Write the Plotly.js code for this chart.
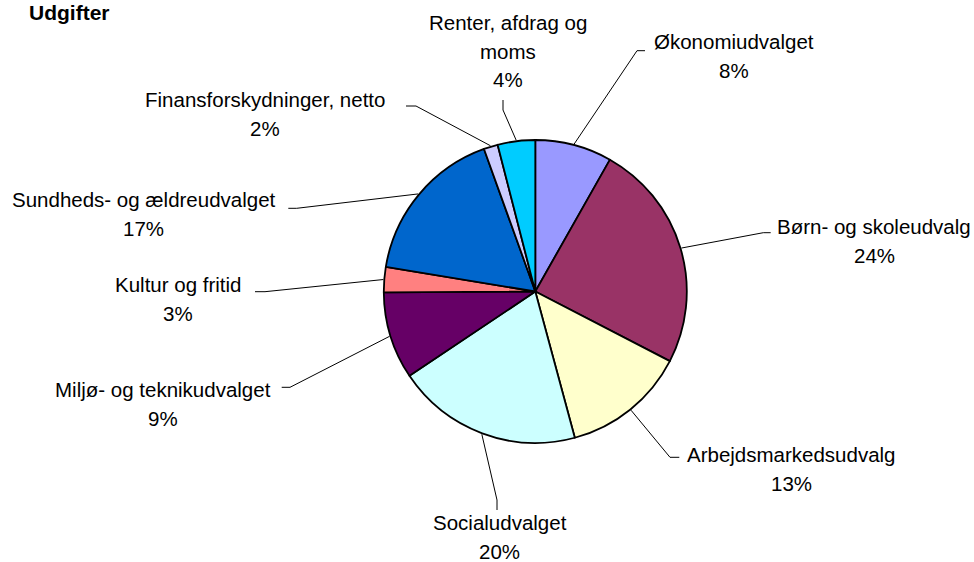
<!DOCTYPE html>
<html>
<head>
<meta charset="utf-8">
<script src="https://cdn.plot.ly/plotly-3.0.1.min.js"></script>
<style>html,body{margin:0;padding:0;background:#fff;}#chart{width:974px;height:562px;}</style>
</head>
<body>
<div id="chart"></div>
<script>
// ---- data ----
var categories = ["Økonomiudvalget", "Børn- og skoleudvalg", "Arbejdsmarkedsudvalg", "Socialudvalget",
  "Miljø- og teknikudvalget", "Kultur og fritid", "Sundheds- og ældreudvalget",
  "Finansforskydninger, netto", "Renter, afdrag og moms"];
var labelLines = [["Økonomiudvalget"], ["Børn- og skoleudvalg"], ["Arbejdsmarkedsudvalg"], ["Socialudvalget"],
  ["Miljø- og teknikudvalget"], ["Kultur og fritid"], ["Sundheds- og ældreudvalget"],
  ["Finansforskydninger, netto"], ["Renter, afdrag og", "moms"]];
var shares = [8.2, 24.4, 13.2, 19.8, 9.3, 2.7, 16.9, 1.5, 4.0];
var colors = ["#9999FF", "#993366", "#FFFFCC", "#CCFFFF", "#660066", "#FF8080", "#0066CC", "#CCCCFF", "#00CCFF"];
var chartTitle = "Udgifter";

// ---- layout (pixels) ----
var W = 974, H = 562;
var CX = 535.3, CY = 291.5, R = 151.5;
var FS = 20.5, PITCH = 28.5;
// label centre x, first-line baseline y
var labelCx   = [734, 874, 791, 500, 162.5, 177.5, 143.5, 265, 508];
var labelBase = [49, 234, 462, 530, 397, 292, 207, 107, 30];
// leader elbows and ends
var elbowX = [637, 763.3, 670, 497, 290, 265, 296.7, 416, 503];
var elbowY = [50.7, 232.7, 457.3, 500, 387.3, 291.7, 208.3, 106, 110];
var endX   = [645, 770.7, 679.3, 497, 281.7, 255, 288.3, 406, 503];
var endY   = [50.7, 232.7, 457.3, 510, 387.3, 291.7, 208.3, 106, 100];

function px(x) { return x / W; }
function py(y) { return 1 - y / H; }

var total = shares.reduce(function (a, b) { return a + b; }, 0);
var font = "Liberation Sans, Arial, sans-serif";

var annotations = [{
  text: "<b>" + chartTitle + "</b>", xref: "paper", yref: "paper",
  x: px(27), y: py(20 - 7.3), xanchor: "left", yanchor: "middle",
  showarrow: false, font: {family: font, size: 21, color: "#000"}
}];
var shapes = [];
var cum = 0;
shares.forEach(function (v, i) {
  var mid = (cum + v / 2) / total * 2 * Math.PI;
  cum += v;
  var sx = CX + (R + 1) * Math.sin(mid), sy = CY - (R + 1) * Math.cos(mid);
  shapes.push({
    type: "path", xref: "paper", yref: "paper",
    path: "M" + px(sx) + "," + py(sy) + " L" + px(elbowX[i]) + "," + py(elbowY[i]) + " L" + px(endX[i]) + "," + py(endY[i]),
    line: {color: "#000", width: 1}
  });
  var lines = labelLines[i].concat([Math.round(v / total * 100) + "%"]);
  lines.forEach(function (t, k) {
    annotations.push({
      text: t, xref: "paper", yref: "paper",
      x: px(labelCx[i]), y: py(labelBase[i] + k * PITCH - 0.3465 * FS),
      xanchor: "center", yanchor: "middle", showarrow: false,
      font: {family: font, size: FS, color: "#000"}
    });
  });
});

var trace = {
  type: "pie", labels: categories, values: shares, sort: false,
  direction: "clockwise", rotation: 0, textinfo: "none", hoverinfo: "none",
  marker: {colors: colors, line: {color: "#000", width: 1.8}},
  domain: {x: [px(CX - R), px(CX + R)], y: [py(CY + R), py(CY - R)]},
  showlegend: false
};

Plotly.newPlot("chart", [trace], {
  width: W, height: H, margin: {l: 0, r: 0, t: 0, b: 0},
  paper_bgcolor: "#fff", plot_bgcolor: "#fff",
  showlegend: false, annotations: annotations, shapes: shapes
}, {displayModeBar: false, staticPlot: true});
</script>
</body>
</html>
